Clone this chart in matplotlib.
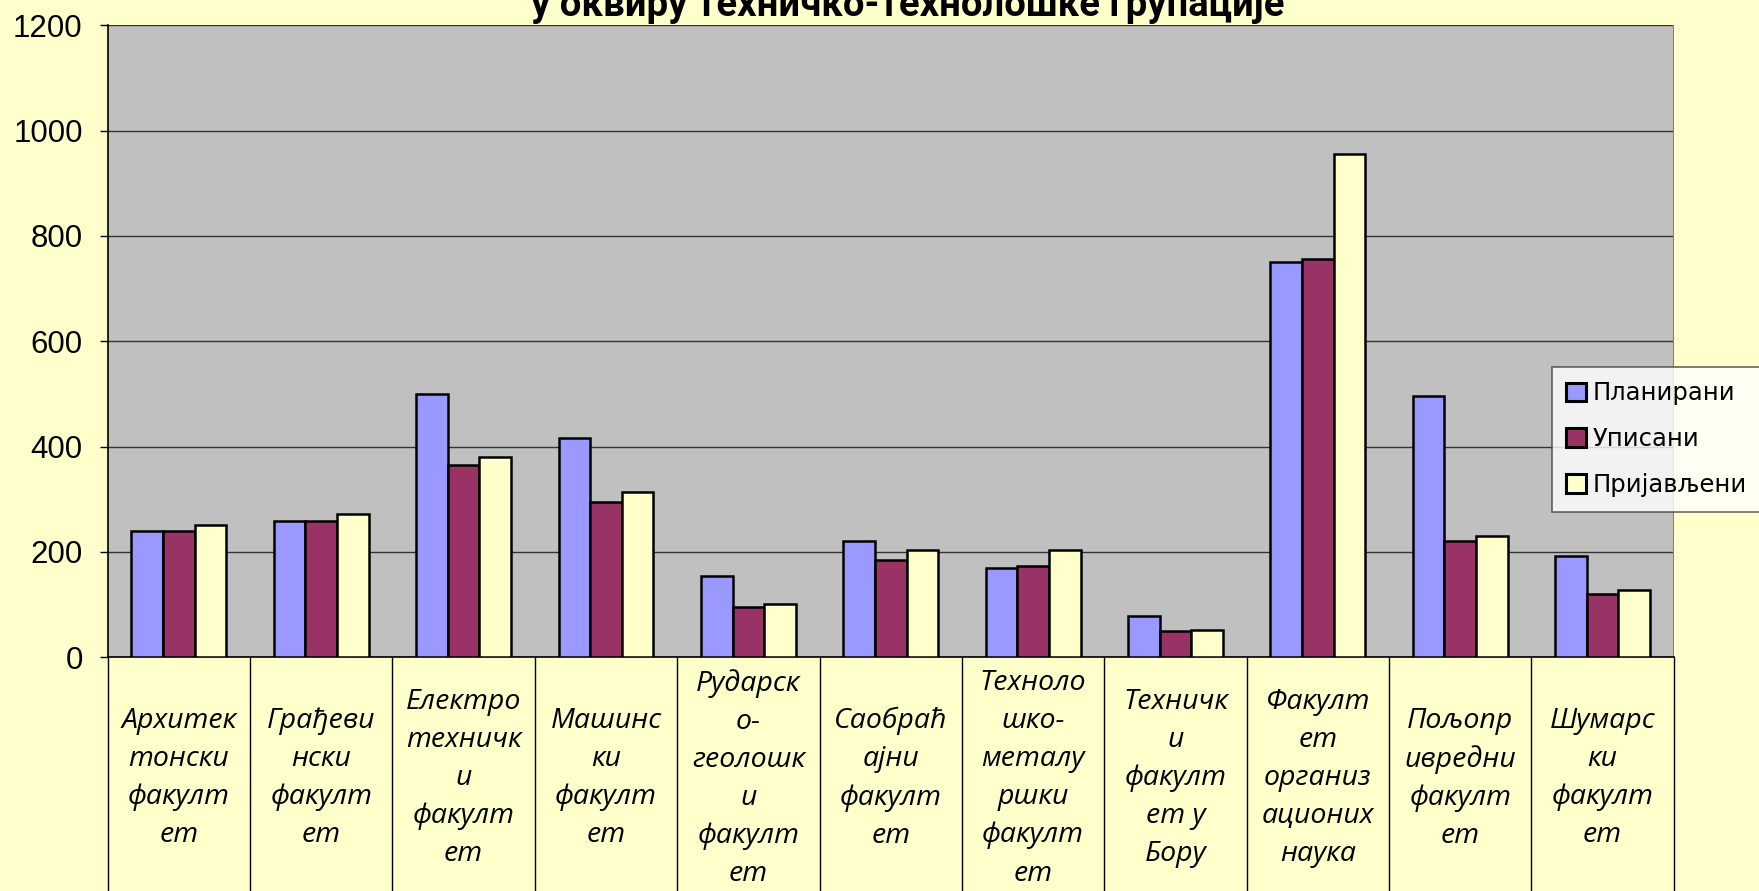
import matplotlib.pyplot as plt
import matplotlib.transforms as mtransforms
import numpy as np

# --- data ---
fakulteti = [
    "Архитек\nтонски\nфакулт\nет",
    "Грађеви\nнски\nфакулт\nет",
    "Електро\nтехничк\nи\nфакулт\nет",
    "Машинс\nки\nфакулт\nет",
    "Рударск\nо-\nгеолошк\nи\nфакулт\nет",
    "Саобраћ\nајни\nфакулт\nет",
    "Техноло\nшко-\nметалу\nршки\nфакулт\nет",
    "Техничк\nи\nфакулт\nет у\nБору",
    "Факулт\nет\nорганиз\nационих\nнаука",
    "Пољопр\nивредни\nфакулт\nет",
    "Шумарс\nки\nфакулт\nет",
]
planirani = [240, 258, 500, 416, 154, 220, 169, 78, 751, 497, 192]
upisani = [240, 258, 365, 295, 96, 184, 173, 50, 757, 220, 120]
prijavljeni = [251, 273, 380, 314, 102, 203, 203, 52, 955, 230, 128]
serije = ["Планирани", "Уписани", "Пријављени"]
boje = ["#9999FF", "#993366", "#FFFFCC"]
y_ticks = [0, 200, 400, 600, 800, 1000, 1200]
naslov = "у оквиру техничко-технолошке групације"

W, H = 1759, 891
fig = plt.figure(figsize=(W / 100, H / 100), dpi=100, facecolor="#FFFFCC")
ax = fig.add_axes([107.7 / W, 1 - 657.3 / H, (1673.8 - 107.7) / W, (657.3 - 25.3) / H])
ax.set_facecolor("#C0C0C0")

x = np.arange(len(fakulteti))
w = 0.222
for k, (vals, name, c) in enumerate(zip([planirani, upisani, prijavljeni], serije, boje)):
    ax.bar(x + (k - 1) * w, vals, width=w, color=c, edgecolor="black",
           linewidth=1.8, label=name, zorder=3)

ax.set_xlim(-0.5, len(fakulteti) - 0.5)
ax.set_ylim(0, 1200)
ax.set_yticks(y_ticks)
ax.yaxis.grid(True, color="#333333", linewidth=1.0, zorder=0)
ax.set_axisbelow(True)
ax.tick_params(axis="y", direction="out", length=6, width=1, pad=12,
               labelsize=22.5)
for t in ax.get_yticklabels():
    t.set_fontfamily(["Liberation Sans", "DejaVu Sans"])
ax.set_xticks([])

for s in ["top", "right"]:
    ax.spines[s].set_visible(False)
ax.spines["left"].set_linewidth(1.2)
ax.spines["bottom"].set_linewidth(1.2)
ax.axvline(len(fakulteti) - 0.5, color="#808080", linewidth=1.5, zorder=1)

# category "table" under the axis
tr = mtransforms.blended_transform_factory(ax.transData, ax.transAxes)
ax.vlines(np.arange(len(fakulteti) + 1) - 0.5, -0.6, 0, transform=tr,
          color="black", linewidth=1.0, clip_on=False)
for i, lab in enumerate(fakulteti):
    ax.text(i, -0.1915, lab, transform=tr, ha="center", va="center",
            fontsize=20.5, style="italic", linespacing=1.48,
            family=["Open Sans", "DejaVu Sans"])

leg = fig.legend(loc="upper left", bbox_to_anchor=(1551.7 / W, 1 - 366.7 / H),
                 bbox_transform=fig.transFigure, borderaxespad=0,
                 frameon=True, fancybox=False, shadow=False,
                 handlelength=0.8, handleheight=0.8, handletextpad=0.3,
                 labelspacing=0.9, borderpad=0.6,
                 prop={"family": ["DejaVu Sans"], "size": 17.5})
leg.get_frame().set_edgecolor("#404040")
leg.get_frame().set_linewidth(1.2)
for p in leg.get_patches():
    p.set_linewidth(2.2)

fig.text(908 / W, 1 - 16 / H, naslov, ha="center", va="baseline",
         fontsize=27.5, fontweight="bold",
         family=["Roboto", "DejaVu Sans"])

fig.savefig("out.png", dpi=100, facecolor=fig.get_facecolor())
